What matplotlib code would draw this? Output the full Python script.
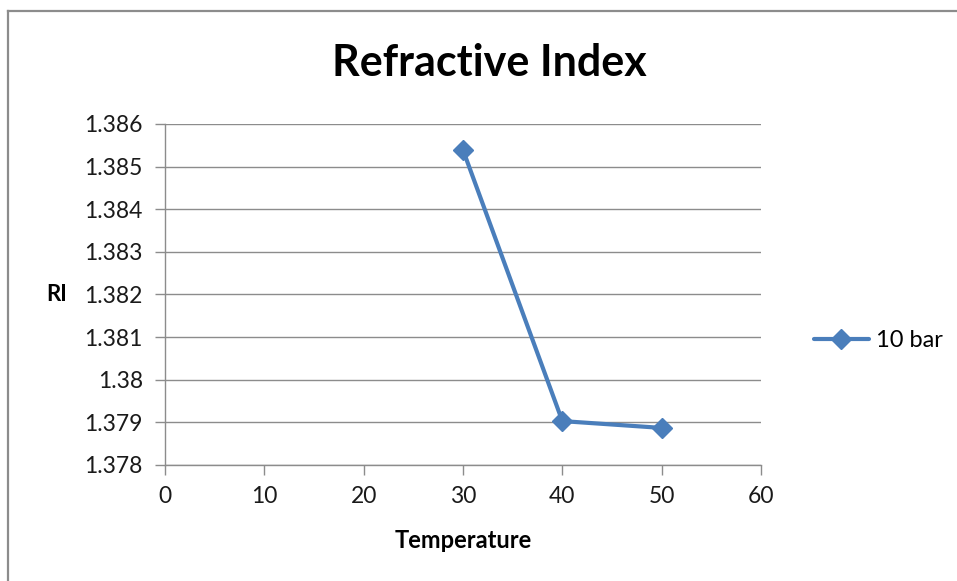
import matplotlib.pyplot as plt
from matplotlib.ticker import FuncFormatter, MultipleLocator
from matplotlib.lines import Line2D

plt.rcParams["font.family"] = ["Lato", "DejaVu Sans"]

temperature = [30, 40, 50]
ri_10bar = [1.38539, 1.37903, 1.37887]
series_label = "10 bar"

W, H = 957, 581
fig = plt.figure(figsize=(W / 100, H / 100), dpi=100)

# chart-area border (left and top edges only are inside the frame)
fig.add_artist(Line2D([8 / W, 8 / W], [0, 1 - 11 / H], transform=fig.transFigure,
                      color="#8c8c8c", lw=1.6))
fig.add_artist(Line2D([8 / W, 1], [1 - 11 / H, 1 - 11 / H], transform=fig.transFigure,
                      color="#8c8c8c", lw=1.6))

ax = fig.add_axes([165 / W, 1 - 465 / H, (761 - 165) / W, (465 - 124) / H])

grid_c = "#8c8c8c"
ax.plot(temperature, ri_10bar, color="#4a7ebb", lw=3, marker="D", markersize=10.5,
        label=series_label, solid_joinstyle="round", solid_capstyle="round")

ax.set_xlim(0, 60)
ax.set_ylim(1.378, 1.386)
ax.xaxis.set_major_locator(MultipleLocator(10))
ax.yaxis.set_major_locator(MultipleLocator(0.001))
ax.yaxis.set_major_formatter(FuncFormatter(lambda v, p: f"{v:.3f}".rstrip("0").rstrip(".")))

ax.grid(axis="y", color=grid_c, lw=1)
ax.set_axisbelow(True)
for s in ["top", "right"]:
    ax.spines[s].set_visible(False)
for s in ["left", "bottom"]:
    ax.spines[s].set_color(grid_c)
    ax.spines[s].set_linewidth(1)
ax.tick_params(axis="both", colors=grid_c, length=7, width=1, labelsize=16.5,
               labelcolor="#1a1a1a")
ax.tick_params(axis="y", pad=9)
ax.tick_params(axis="x", pad=8)

ax.set_xlabel("Temperature", fontsize=17, fontweight="bold", labelpad=16)
ax.set_ylabel("RI", fontsize=16, fontweight="bold", rotation=0, va="center", ha="center")
ax.yaxis.set_label_coords((57 - 165) / 596, 0.5)

fig.text(489 / W, 1 - 63 / H, "Refractive Index", fontsize=31, fontweight="bold",
         ha="center", va="center")

leg = ax.legend(loc="center left", bbox_to_anchor=(793 / W, 1 - 341 / H),
                bbox_transform=fig.transFigure, frameon=False, fontsize=17,
                handlelength=2.3, handletextpad=0.3)

fig.savefig("out.png", dpi=100)
